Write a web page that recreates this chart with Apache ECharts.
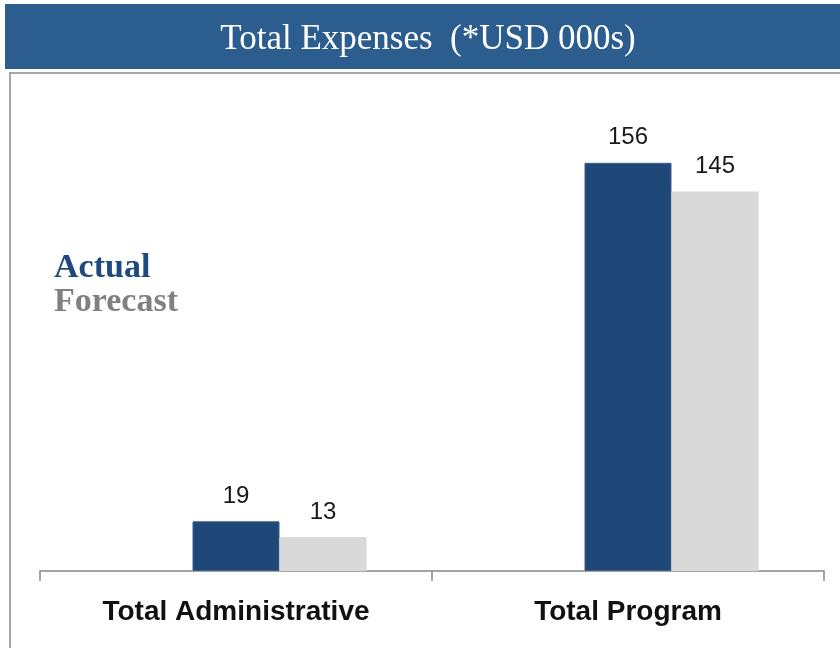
<!DOCTYPE html>
<html>
<head>
<meta charset="utf-8">
<title>Total Expenses</title>
<script src="https://cdn.jsdelivr.net/npm/echarts@6/dist/echarts.min.js"></script>
<style>
  html, body { margin: 0; padding: 0; background: #fff; }
  #main { width: 840px; height: 648px; }
</style>
</head>
<body>
<div id="main"></div>
<script>
// data
var categories = ['Total Administrative', 'Total Program'];
var actual = [19, 156];
var forecast = [13, 145];
var spacer = ['-', '-']; // empty slot left of the bars, as in the original layout

var chart = echarts.init(document.getElementById('main'));

var valueLabel = {
  show: true,
  position: 'top',
  distance: 13,
  fontFamily: 'Liberation Sans',
  fontSize: 24,
  color: '#1a1a1a'
};

var option = {
  backgroundColor: '#ffffff',
  animation: false,
  graphic: [
    { // blue header band
      type: 'rect',
      left: 5, top: 4,
      shape: { width: 835, height: 65 },
      style: { fill: '#2b5d8e' },
      z: 0
    },
    {
      type: 'text',
      x: 428, y: 40,
      style: {
        text: 'Total Expenses  (*USD 000s)',
        fill: '#ffffff',
        font: '35px "Liberation Serif"',
        textAlign: 'center',
        textVerticalAlign: 'middle'
      },
      z: 1
    },
    { // frame round the chart area
      type: 'rect',
      shape: { x: 10, y: 73, width: 900, height: 700 },
      style: { fill: 'none', stroke: '#a6a6a6', lineWidth: 2 },
      z: 0
    }
  ],
  legend: {
    orient: 'vertical',
    left: 43,
    top: 246,
    itemWidth: 0,
    itemHeight: 0,
    itemGap: 0,
    selectedMode: false,
    data: [
      { name: 'Actual', icon: 'rect', textStyle: { color: '#1f497d' } },
      { name: 'Forecast', icon: 'rect', textStyle: { color: '#808080' } }
    ],
    textStyle: {
      fontFamily: 'Liberation Serif',
      fontWeight: 'bold',
      fontSize: 34,
      lineHeight: 31
    }
  },
  grid: { left: 40, right: 16, top: 100, bottom: 77 },
  xAxis: {
    type: 'category',
    data: categories,
    axisLine: { lineStyle: { color: '#868686', width: 1.5 } },
    axisTick: { show: true, length: 10, lineStyle: { color: '#868686', width: 1.5 } },
    axisLabel: {
      margin: 27,
      fontFamily: 'Liberation Sans',
      fontWeight: 'bold',
      fontSize: 28,
      color: '#111111'
    }
  },
  yAxis: {
    type: 'value',
    min: 0,
    max: 180,
    show: false,
    splitLine: { show: false }
  },
  series: [
    {
      name: 'spacer',
      type: 'bar',
      data: spacer,
      barWidth: 87,
      barGap: '0%'
    },
    {
      name: 'Actual',
      type: 'bar',
      data: actual,
      barWidth: 87,
      barGap: '0%',
      itemStyle: { color: '#1f4778', borderColor: '#3d6090', borderWidth: 1 },
      label: valueLabel
    },
    {
      name: 'Forecast',
      type: 'bar',
      data: forecast,
      barWidth: 87,
      barGap: '0%',
      itemStyle: { color: '#d9d9d9' },
      label: valueLabel
    }
  ]
};

chart.setOption(option);
</script>
</body>
</html>
